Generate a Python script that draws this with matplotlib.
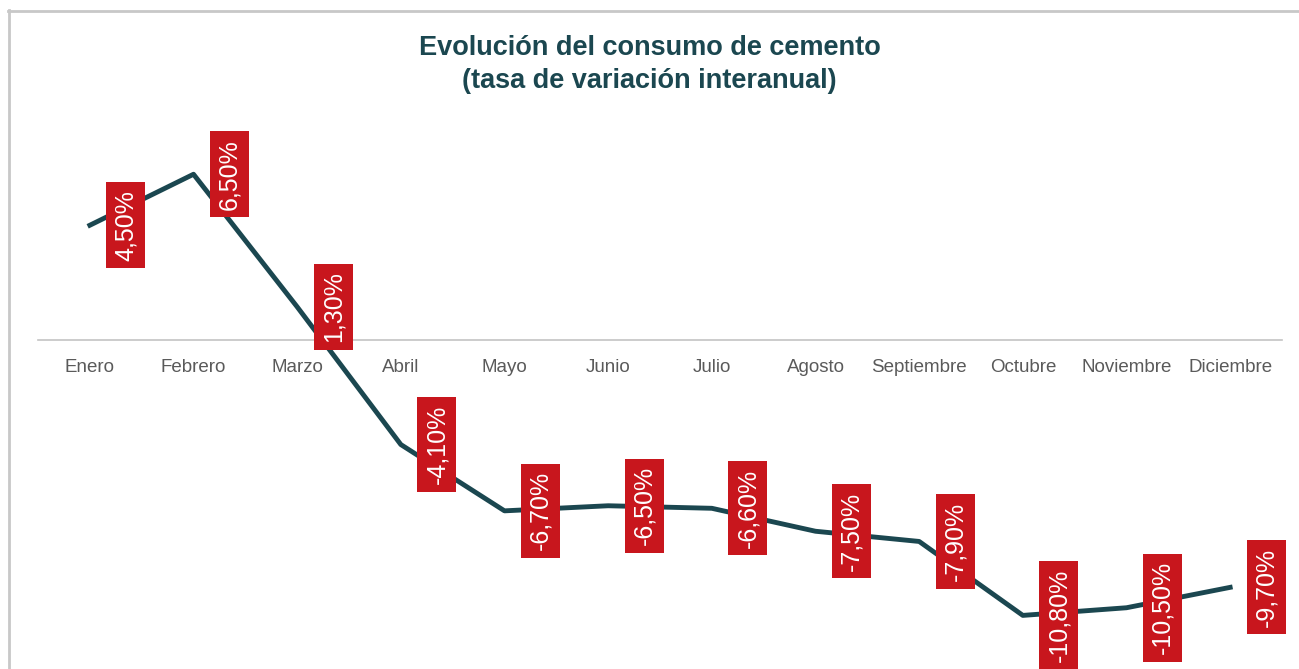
import matplotlib.pyplot as plt
from matplotlib.lines import Line2D

meses = ["Enero", "Febrero", "Marzo", "Abril", "Mayo", "Junio", "Julio",
         "Agosto", "Septiembre", "Octubre", "Noviembre", "Diciembre"]
tasa = [4.5, 6.5, 1.3, -4.1, -6.7, -6.5, -6.6, -7.5, -7.9, -10.8, -10.5, -9.7]

teal = "#1b4750"
rojo = "#c8161d"

plt.rcParams['font.family'] = ['Liberation Sans', 'DejaVu Sans']

fig = plt.figure(figsize=(12.99, 6.69), dpi=100)
ax = fig.add_axes([38 / 1299, 0, 1244 / 1299, 549 / 669])

x = list(range(len(meses)))
ax.plot(x, tasa, color=teal, lw=3.5, solid_joinstyle='round', zorder=2)

for i, v in enumerate(tasa):
    txt = f"{v:.2f}".replace('.', ',') + "%"
    ax.annotate(txt, xy=(i, v), xytext=(26, 0), textcoords='offset points',
                rotation=90, ha='center', va='center', color='white', fontsize=18,
                bbox=dict(boxstyle='square,pad=0.3', fc=rojo, ec='none'), zorder=3)

for s in ['top', 'right', 'left']:
    ax.spines[s].set_visible(False)
ax.spines['bottom'].set_position(('data', 0))
ax.spines['bottom'].set_color('#c4c4c4')
ax.spines['bottom'].set_linewidth(1.2)
ax.spines['bottom'].set_zorder(1)

ax.set_xlim(-0.5, 11.5)
ax.set_ylim(-329 / 25.5, 220 / 25.5)
ax.set_yticks([])
ax.set_xticks(x)
ax.set_xticklabels(meses)
ax.tick_params(axis='x', length=0, pad=14, labelsize=13.5, labelcolor='#5a5a5a')

fig.text(0.5, 1 - 48 / 669, "Evolución del consumo de cemento", ha='center', va='center',
         fontsize=19.5, fontweight='bold', color=teal)
fig.text(0.5, 1 - 81 / 669, "(tasa de variación interanual)", ha='center', va='center',
         fontsize=19.5, fontweight='bold', color=teal)

# marco gris del gráfico
fig.add_artist(Line2D([8.5 / 1299, 8.5 / 1299], [0, 1 - 10 / 669], color='#c8c8c8', lw=2))
fig.add_artist(Line2D([8 / 1299, 1], [1 - 10.5 / 669, 1 - 10.5 / 669], color='#c8c8c8', lw=2))

fig.savefig("out.png", dpi=100)
